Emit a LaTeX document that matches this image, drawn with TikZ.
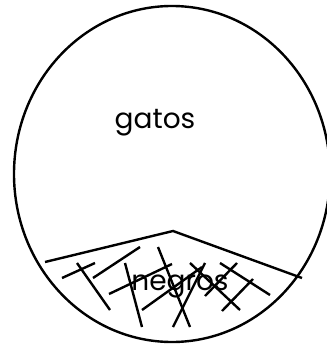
\documentclass[tikz,border=0pt]{standalone}
\usepackage{fontspec}
\setmainfont{Poppins}
\usetikzlibrary{calc,positioning}

\begin{document}
\begin{tikzpicture}[x=1pt,y=-1pt,line width=2.4pt]
\useasboundingbox (0,0) rectangle (326,347);
\coordinate (C) at (172,174);
\coordinate (A) at (45,262);
\coordinate (B) at (173,231);
\coordinate (D) at (302,278);
\draw (C) ellipse [x radius=158pt, y radius=168pt];
\draw (A)--(B)--(D);
\foreach \xa/\ya/\xb/\yb in {62/278/95/263, 77/263/110/310, 93/278/140/247,
  125/263/142/327, 109/294/172/264, 158/247/190/327, 142/310/202/267,
  190/263/240/310, 205/263/173/327, 220/263/270/295, 237/263/205/296,
  253/279/222/311}
  \draw (\xa,\ya)--(\xb,\yb);
\node[font=\fontsize{28}{32}\selectfont] (gatos) at (155,123) {gatos};
\node[font=\fontsize{28}{32}\selectfont] (negros) at (180,286) {negros};
\end{tikzpicture}
\end{document}
